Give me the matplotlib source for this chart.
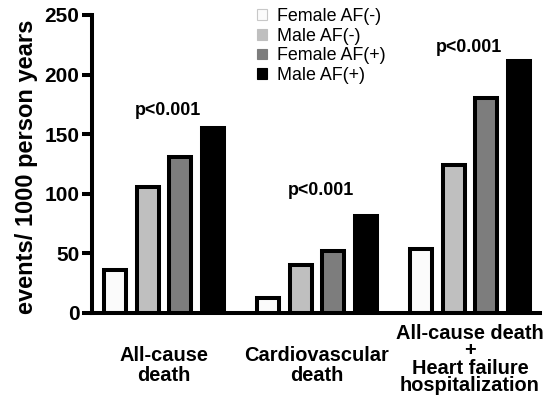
import matplotlib
matplotlib.use("Agg")
import matplotlib.pyplot as plt
from matplotlib.patches import Patch
import matplotlib.transforms as mtrans
import numpy as np

plt.rcParams['font.family'] = ['Liberation Sans', 'DejaVu Sans']

categories = ["All-cause\ndeath", "Cardiovascular\ndeath",
              "All-cause death\n+\nHeart failure\nhospitalization"]
series_names = ["Female AF(-)", "Male AF(-)", "Female AF(+)", "Male AF(+)"]
female_af_neg = [36, 13, 54]
male_af_neg = [106, 40, 124]
female_af_pos = [131, 52, 180]
male_af_pos = [155, 81, 211]
p_labels = ["p<0.001", "p<0.001", "p<0.001"]
p_heights = [170, 103, 223]
yticks = [0, 50, 100, 150, 200, 250]

series = [female_af_neg, male_af_neg, female_af_pos, male_af_pos]
colors = ["#fbfbfb", "#bfbfbf", "#7d7d7d", "#000000"]
legend_edges = ["#c8c8c8", "#bfbfbf", "#7d7d7d", "#000000"]

fig = plt.figure(figsize=(5.57, 3.98), dpi=100)
ax = fig.add_axes([92/557, 1-313/398, 448/557, 298/398])

group_pitch = 4.68
width = 0.67
gx = np.arange(len(categories)) * group_pitch
for i, vals in enumerate(series):
    ax.bar(gx + i, vals, width=width, color=colors[i], edgecolor='black',
           linewidth=2.9, zorder=2)

ax.set_xlim(-0.70, gx[-1] + 3 + 0.64)
ax.set_ylim(0, 250)
ax.set_yticks(yticks)
ax.set_yticklabels([str(t) for t in yticks], fontsize=15, fontweight='bold')
ax.tick_params(axis='y', length=7.5, width=2.9, pad=1.5)
ax.set_xticks([])
for s in ['top', 'right']:
    ax.spines[s].set_visible(False)
for s in ['left', 'bottom']:
    ax.spines[s].set_linewidth(2.9)

trans = mtrans.blended_transform_factory(ax.transData, ax.transAxes)
tops = [-0.112, -0.112, -0.036]
lsp = [1.05, 1.05, 0.9]
for k, lab in enumerate(categories):
    ax.text(gx[k] + 1.5, tops[k], lab, transform=trans, ha='center', va='top',
            fontsize=14.4, fontweight='bold', linespacing=lsp[k])

offs = [0.12, 0.12, -0.03]
for k, pl in enumerate(p_labels):
    ax.text(gx[k] + 1.5 + offs[k], p_heights[k], pl, ha='center', va='center',
            fontsize=12.9, fontweight='bold')

fig.text(27/557, 1-167/398, "events/ 1000 person years", rotation=90,
         ha='center', va='center', fontsize=17, fontweight='bold')

handles = [Patch(facecolor=colors[i], edgecolor=legend_edges[i], linewidth=0.8)
           for i in range(4)]
fig.legend(handles, series_names, loc='upper left',
           bbox_to_anchor=(257/557, 1-8/398), frameon=False, fontsize=12.9,
           handlelength=0.55, handleheight=0.55, handletextpad=0.55,
           labelspacing=0.15, borderpad=0, borderaxespad=0)

fig.savefig("out.png", dpi=100)
